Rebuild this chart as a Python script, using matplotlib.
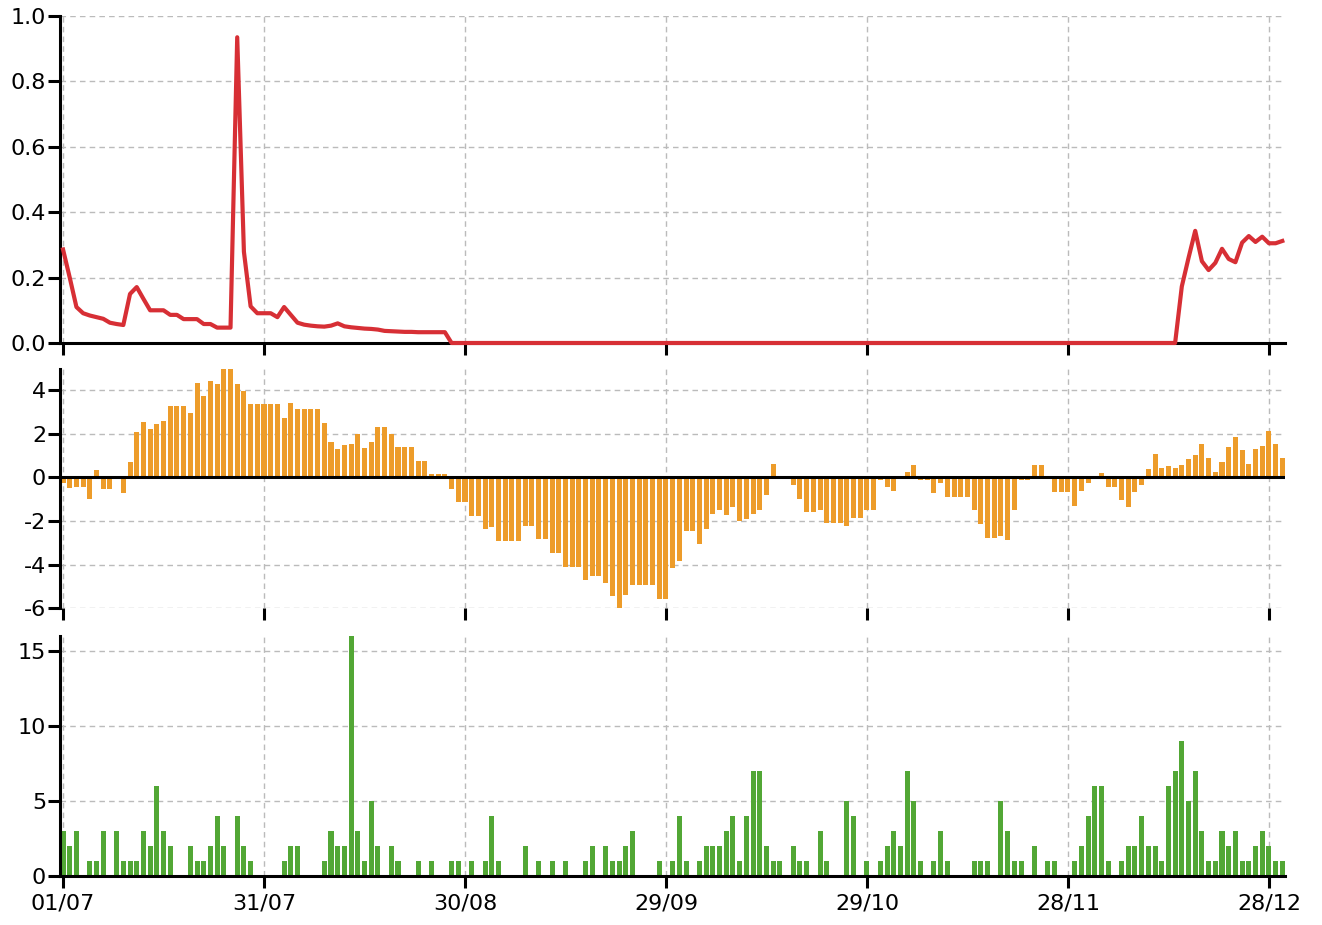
import matplotlib

matplotlib.use("Agg")
import numpy as np
from matplotlib import pyplot as plt

# tick positions (days from 01/07) and labels
tick_days = [0, 30, 60, 90, 120, 150, 180]
tick_labels = ["01/07", "31/07", "30/08", "29/09", "29/10", "28/11", "28/12"]

# top panel: red line, one value per day
red_values = [
    0.286, 0.2, 0.11, 0.091, 0.084, 0.079, 0.074, 0.062, 0.058, 0.055,
    0.15, 0.171, 0.135, 0.1, 0.1, 0.1, 0.086, 0.086, 0.073, 0.073,
    0.073, 0.058, 0.058, 0.047, 0.047, 0.047, 0.935, 0.279, 0.112, 0.091,
    0.091, 0.091, 0.079, 0.11, 0.086, 0.062, 0.056, 0.053, 0.051, 0.05,
    0.053, 0.06, 0.051, 0.048, 0.046, 0.044, 0.043, 0.041, 0.037, 0.036,
    0.035, 0.034, 0.034, 0.033, 0.033, 0.033, 0.033, 0.033, 0, 0,
    0, 0, 0, 0, 0, 0, 0, 0, 0, 0, 0, 0, 0, 0, 0, 0, 0, 0, 0, 0,
    0, 0, 0, 0, 0, 0, 0, 0, 0, 0, 0, 0, 0, 0, 0, 0, 0, 0, 0, 0,
    0, 0, 0, 0, 0, 0, 0, 0, 0, 0, 0, 0, 0, 0, 0, 0, 0, 0, 0, 0,
    0, 0, 0, 0, 0, 0, 0, 0, 0, 0, 0, 0, 0, 0, 0, 0, 0, 0, 0, 0,
    0, 0, 0, 0, 0, 0, 0, 0, 0, 0, 0, 0, 0, 0, 0, 0, 0, 0, 0, 0,
    0, 0, 0, 0, 0, 0, 0,
    0.173, 0.26, 0.343, 0.25, 0.223, 0.245, 0.288, 0.257, 0.247, 0.307,
    0.327, 0.309, 0.325, 0.305, 0.305, 0.312,
]

# middle panel: orange bars
orange_values = [
    -0.25, -0.5, -0.43, -0.43, -1.0, 0.33, -0.52, -0.52, 0, -0.7,
    0.7, 2.08, 2.53, 2.21, 2.44, 2.58, 3.27, 3.27, 3.27, 2.95,
    4.32, 3.73, 4.41, 4.27, 4.96, 4.96, 4.27, 3.95, 3.36, 3.36,
    3.36, 3.36, 3.36, 2.72, 3.4, 3.13, 3.13, 3.13, 3.13, 2.49,
    1.62, 1.3, 1.48, 1.53, 1.98, 1.34, 1.62, 2.31, 2.31, 1.98,
    1.39, 1.39, 1.39, 0.75, 0.75, 0.15, 0.15, 0.15, -0.52, -1.11,
    -1.11, -1.76, -1.76, -2.35, -2.26, -2.9, -2.9, -2.9, -2.9, -2.21,
    -2.21, -2.81, -2.81, -3.45, -3.45, -4.09, -4.09, -4.09, -4.69, -4.5,
    -4.5, -4.82, -5.42, -6.06, -5.37, -4.92, -4.92, -4.92, -4.92, -5.56,
    -5.56, -4.14, -3.82, -2.44, -2.44, -3.04, -2.35, -1.66, -1.48, -1.71,
    -1.34, -1.98, -1.89, -1.66, -1.48, -0.79, 0.61, 0, 0, -0.34,
    -0.98, -1.57, -1.57, -1.48, -2.08, -2.08, -2.08, -2.21, -1.85, -1.85,
    -1.48, -1.48, -0.1, -0.43, -0.61, 0.06, 0.24, 0.56, -0.1, -0.1,
    -0.7, -0.24, -0.89, -0.89, -0.89, -0.89, -1.48, -2.12, -2.76, -2.76,
    -2.67, -2.85, -1.48, -0.1, -0.1, 0.56, 0.56, 0, -0.66, -0.66,
    -0.66, -1.3, -0.61, -0.24, 0, 0.2, -0.43, -0.43, -1.02, -1.34,
    -0.66, -0.34, 0.38, 1.07, 0.43, 0.52, 0.43, 0.56, 0.84, 1.02,
    1.53, 0.89, 0.24, 0.7, 1.39, 1.85, 1.25, 0.61, 1.3, 1.44,
    2.12, 1.53, 0.89,
]

# bottom panel: green bars
green_values = [
    3, 2, 3, 0, 1, 1, 3, 0, 3, 1,
    1, 1, 3, 2, 6, 3, 2, 0, 0, 2,
    1, 1, 2, 4, 2, 0, 4, 2, 1, 0,
    0, 0, 0, 1, 2, 2, 0, 0, 0, 1,
    3, 2, 2, 16, 3, 1, 5, 2, 0, 2,
    1, 0, 0, 1, 0, 1, 0, 0, 1, 1,
    0, 1, 0, 1, 4, 1, 0, 0, 0, 2,
    0, 1, 0, 1, 0, 1, 0, 0, 1, 2,
    0, 2, 1, 1, 2, 3, 0, 0, 0, 1,
    0, 1, 4, 1, 0, 1, 2, 2, 2, 3,
    4, 1, 4, 7, 7, 2, 1, 1, 0, 2,
    1, 1, 0, 3, 1, 0, 0, 5, 4, 0,
    1, 0, 1, 2, 3, 2, 7, 5, 1, 0,
    1, 3, 1, 0, 0, 0, 1, 1, 1, 0,
    5, 3, 1, 1, 0, 2, 0, 1, 1, 0,
    0, 1, 2, 4, 6, 6, 1, 0, 1, 2,
    2, 4, 2, 2, 1, 6, 7, 9, 5, 7,
    3, 1, 1, 3, 2, 3, 1, 1, 2, 3,
    2, 1, 1,
]

RED = "#d72f35"
ORANGE = "#ed9c2a"
GREEN = "#52a735"
GRID = "#bbbbbb"

plt.rcParams["font.family"] = ["DejaVu Sans"]
plt.rcParams["font.size"] = 16
plt.rcParams["axes.unicode_minus"] = False

days = np.arange(len(green_values))

fig = plt.figure(figsize=(13.22, 9.25), dpi=100)
ax_top = fig.add_axes([0.0454, 0.6292, 0.9266, 0.3535])
ax_mid = fig.add_axes([0.0454, 0.3422, 0.9266, 0.2584])
ax_bot = fig.add_axes([0.0454, 0.0530, 0.9266, 0.2595])


def style_axis(ax, show_bottom=True):
    for side in ("top", "right"):
        ax.spines[side].set_visible(False)
    ax.spines["left"].set_linewidth(2.2)
    ax.spines["bottom"].set_linewidth(2.2)
    ax.spines["bottom"].set_visible(show_bottom)
    ax.set_xlim(-0.45, 182.4)
    ax.set_xticks(tick_days)
    ax.grid(True, color=GRID, linestyle=(0, (4, 3)), linewidth=1.0)
    ax.set_axisbelow(True)
    ax.tick_params(axis="both", length=8.5, width=2.2, color="black")
    ax.tick_params(axis="y", pad=1.5)
    ax.tick_params(axis="x", pad=4)


# top: red line
style_axis(ax_top)
ax_top.plot(days, red_values, color=RED, linewidth=3, zorder=3, clip_on=False)
ax_top.set_ylim(0, 1.0)
ax_top.set_yticks([0, 0.2, 0.4, 0.6, 0.8, 1.0])
ax_top.set_yticklabels(["0.0", "0.2", "0.4", "0.6", "0.8", "1.0"])
ax_top.set_xticklabels([])

# middle: orange bars
style_axis(ax_mid, show_bottom=False)
ax_mid.bar(days, orange_values, width=0.75, color=ORANGE, zorder=2)
ax_mid.axhline(0, color="black", linewidth=2.2, zorder=3)
ax_mid.set_ylim(-6, 4.95)
ax_mid.set_yticks([-6, -4, -2, 0, 2, 4])
ax_mid.set_xticklabels([])

# bottom: green bars
style_axis(ax_bot)
ax_bot.bar(days, green_values, width=0.75, color=GREEN, zorder=2)
ax_bot.set_ylim(0, 16)
ax_bot.set_yticks([0, 5, 10, 15])
ax_bot.set_xticklabels(tick_labels)

fig.savefig("out.png", dpi=100)
